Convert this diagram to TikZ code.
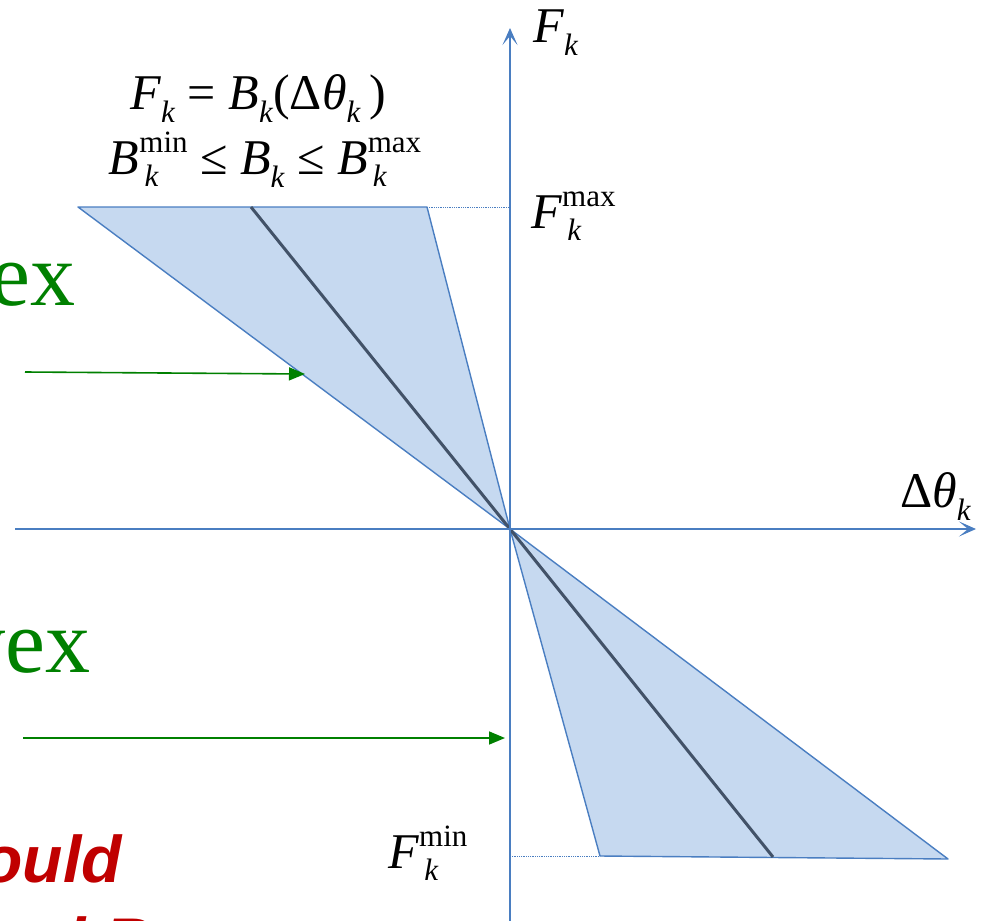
\documentclass[tikz,border=0pt]{standalone}
\usepackage{fontspec}
\setmainfont{Liberation Serif}
\newfontfamily\redfont{Liberation Sans}
\usetikzlibrary{arrows.meta}
\definecolor{axisblue}{RGB}{74,126,193}
\definecolor{regionfill}{RGB}{198,217,240}
\definecolor{darkline}{RGB}{66,82,104}
\definecolor{labgreen}{RGB}{0,128,0}
\definecolor{labred}{RGB}{192,0,0}
\newcommand{\ssz}{\fontsize{31}{31}\selectfont}
\newcommand{\lsub}[1]{\raisebox{-13pt}{\ssz\textit{#1}}}
\newcommand{\lsubsup}[2]{\rlap{\raisebox{-12pt}{\ssz\,\textit{#1}}}\raisebox{22pt}{\ssz #2}}
\begin{document}
\begin{tikzpicture}[x=1pt,y=-1pt,
  axisline/.style={draw=axisblue,line width=2.6pt,-{Stealth[length=17pt,width=15pt,inset=9pt]}},
  region/.style={fill=regionfill,draw=axisblue,line width=1.4pt,line join=round},
  midline/.style={draw=darkline,line width=3pt},
  guide/.style={draw=axisblue,line width=0.8pt,densely dotted},
  greenarrow/.style={draw=labgreen,line width=1.6pt,-{Triangle[length=16pt,width=13pt]}},
  mathlab/.style={inner sep=0pt,font=\fontsize{50}{60}\selectfont},
  greenlab/.style={inner sep=0pt,text=labgreen,font=\fontsize{90}{100}\selectfont},
  redlab/.style={inner sep=0pt,text=labred,font=\redfont\bfseries\itshape\fontsize{66}{77}\selectfont}]
\clip (0,0) rectangle (981,920);
% key points
\coordinate (O) at (510,529);
\coordinate (ul) at (78,207);
\coordinate (ur) at (427,207);
\coordinate (um) at (251,207);
\coordinate (ll) at (600,856);
\coordinate (lr) at (948,859);
\coordinate (lm) at (773,857);
\coordinate (yax) at (510,207);
\coordinate (yaxb) at (510,856);
% regions
\path[region] (ul) -- (ur) -- (O) -- cycle;
\path[region] (O) -- (ll) -- (lr) -- cycle;
\draw[midline] (um) -- (O);
\draw[midline] (O) -- (lm);
\draw[guide] (ur) -- (yax);
\draw[guide] (yaxb) -- (ll);
% axes
\coordinate (ybot) at (510,925);
\coordinate (ytop) at (510,28);
\coordinate (xl) at (15,529);
\coordinate (xr) at (976,529);
\draw[axisline] (ybot) -- (ytop);
\draw[axisline] (xl) -- (xr);
% labels
\node[mathlab,anchor=base west] (fk) at (533,43) {\textit{F}\lsub{k}};
\node[mathlab,anchor=base west] (fmax) at (531,228) {\textit{F}\lsubsup{k}{max}};
\node[mathlab,anchor=base west] (fmin) at (388,868) {\textit{F}\lsubsup{k}{min}};
\node[mathlab,anchor=base west] (dth) at (900,507) {Δ\textit{θ}\lsub{k}};
\node[mathlab,anchor=base] (eq1) at (258,110) {\textit{F}\lsub{k} = \textit{B}\lsub{k}(Δ\textit{θ}\lsub{k}\,)};
\node[mathlab,anchor=base] (eq2) at (265,175) {\textit{B}\lsubsup{k}{min} ≤ \textit{B}\lsub{k} ≤ \textit{B}\lsubsup{k}{max}};
% green labels and arrows
\node[greenlab,anchor=base east] (ex1) at (76,305) {ex};
\node[greenlab,anchor=base east] (ex2) at (91,672) {vex};
\coordinate (g1s) at (25,372);
\coordinate (g1e) at (305,374);
\coordinate (g2s) at (23,738);
\coordinate (g2e) at (505,738);
\draw[greenarrow] (g1s) -- (g1e);
\draw[greenarrow] (g2s) -- (g2e);
% red partial text
\node[redlab,anchor=base east] (r1) at (122,882) {ould};
\node[redlab,anchor=base east] (r2) at (152,964) {and B};
\end{tikzpicture}
\end{document}
